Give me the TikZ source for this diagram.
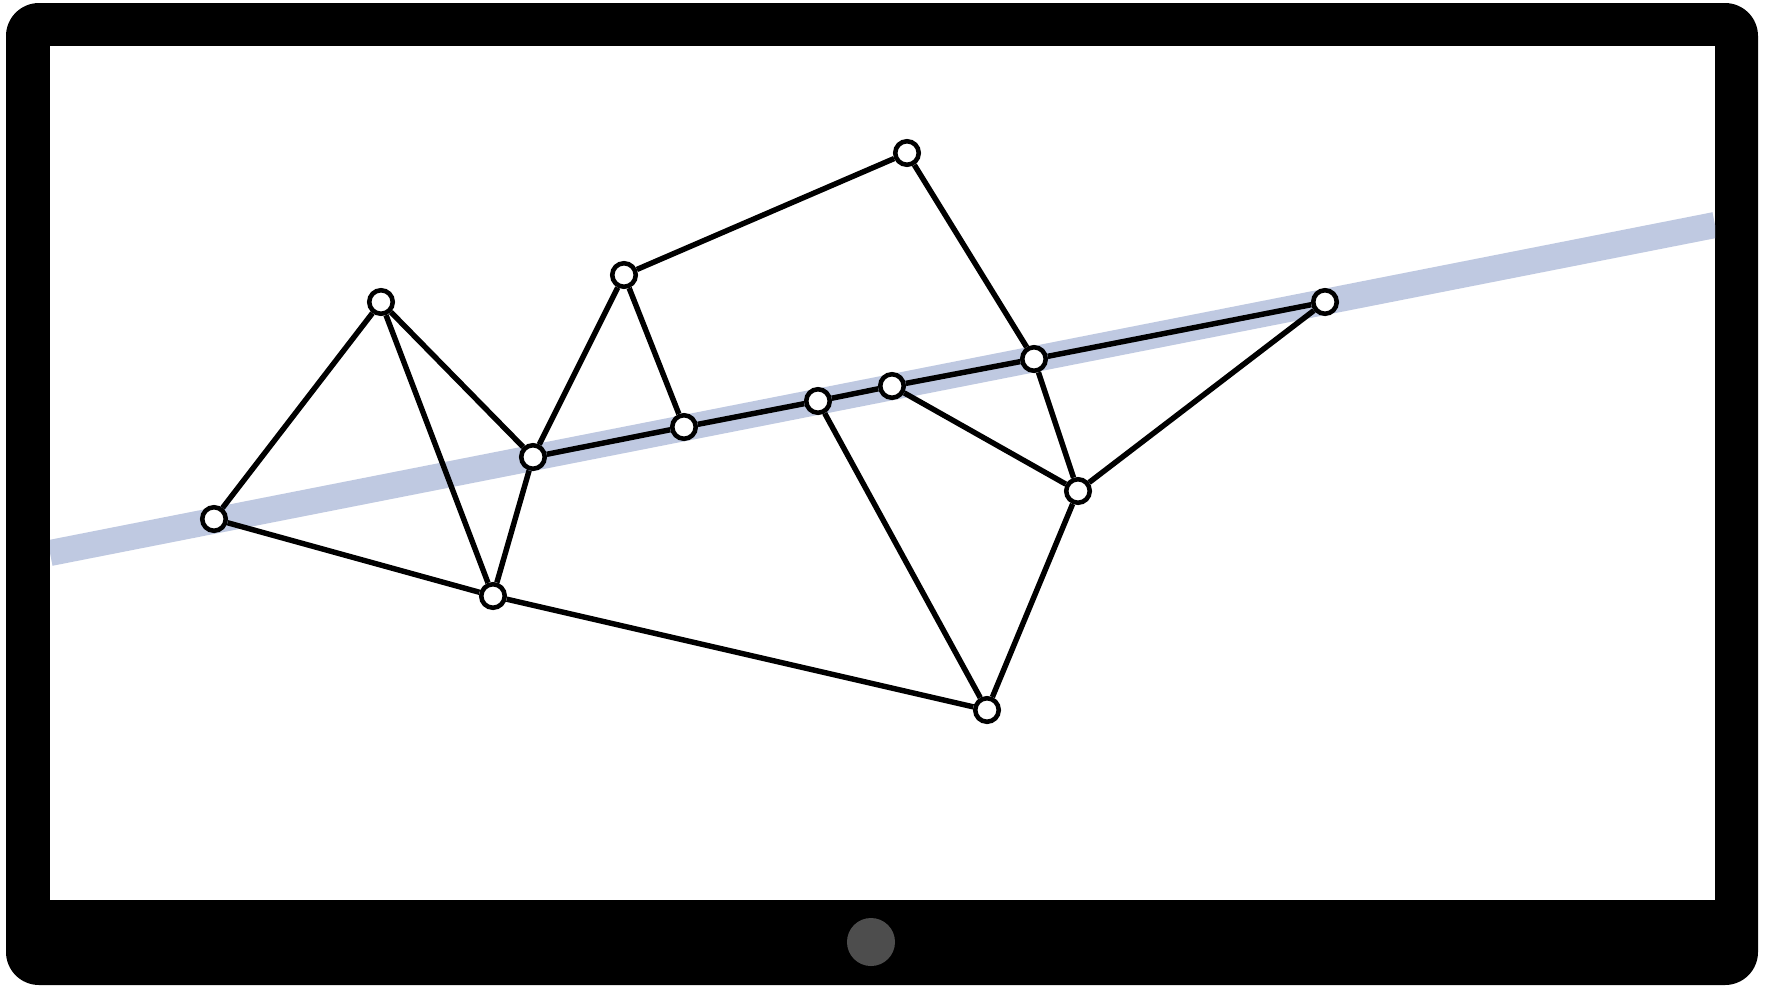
\documentclass[tikz,border=0pt]{standalone}
\usepackage{tikz}
\usetikzlibrary{positioning}

\definecolor{bandblue}{RGB}{191,201,225}
\definecolor{buttongray}{RGB}{77,77,77}

\begin{document}
\begin{tikzpicture}[
    x=0.01cm, y=-0.01cm,
    vert/.style={circle, draw, fill=white, line width=1.3pt,
                 inner sep=0pt, minimum size=0.235cm},
    link/.style={line width=1.55pt},
  ]
    \useasboundingbox (0,0) rectangle (1766,987);

    % tablet body and screen
    \fill[black, rounded corners=0.33cm] (6,3) rectangle (1758,985);
    \fill[white] (50,46) rectangle (1715,900);
    \fill[buttongray] (871,942) circle[radius=0.24cm];

    % regression band
    \begin{scope}
      \clip (50,46) rectangle (1715,900);
      \draw[bandblue, line width=0.26cm] (50,553) -- (1715,225);
    \end{scope}

    % vertices
    \node[vert] (a) at (214,519) {};
    \node[vert] (b) at (381,302) {};
    \node[vert] (c) at (493,596) {};
    \node[vert] (d) at (533,457) {};
    \node[vert] (e) at (624,275) {};
    \node[vert] (f) at (684,427) {};
    \node[vert] (g) at (818,401) {};
    \node[vert] (h) at (892,386) {};
    \node[vert] (i) at (907,153) {};
    \node[vert] (j) at (1034,359) {};
    \node[vert] (k) at (1078,491) {};
    \node[vert] (l) at (1325,302) {};
    \node[vert] (m) at (987,710) {};

    % edges
    \draw[link] (a) -- (b);
    \draw[link] (a) -- (c);
    \draw[link] (b) -- (c);
    \draw[link] (b) -- (d);
    \draw[link] (d) -- (c);
    \draw[link] (d) -- (e);
    \draw[link] (e) -- (f);
    \draw[link] (e) -- (i);
    \draw[link] (i) -- (j);
    \draw[link] (d) -- (f);
    \draw[link] (f) -- (g);
    \draw[link] (g) -- (h);
    \draw[link] (h) -- (j);
    \draw[link] (j) -- (l);
    \draw[link] (h) -- (k);
    \draw[link] (j) -- (k);
    \draw[link] (k) -- (l);
    \draw[link] (g) -- (m);
    \draw[link] (k) -- (m);
    \draw[link] (c) -- (m);
  \end{tikzpicture}
\end{document}
